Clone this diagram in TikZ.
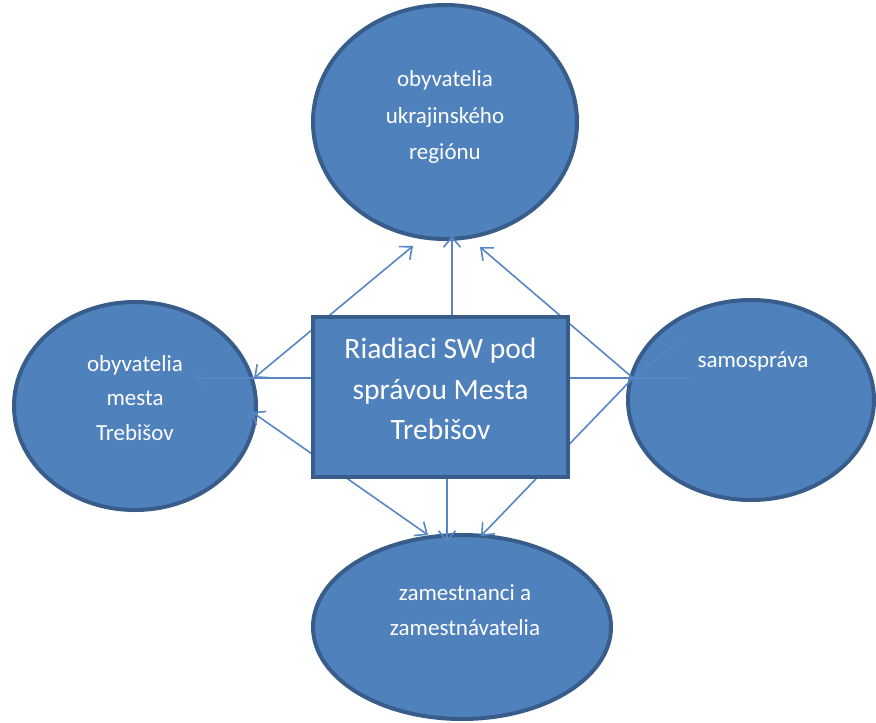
\documentclass[tikz,border=0pt]{standalone}
\usepackage{fontspec}
\setmainfont{Carlito}
\usetikzlibrary{arrows.meta,shapes.geometric}
\definecolor{fillblue}{HTML}{4F81BD}
\definecolor{edgeblue}{HTML}{385D8A}
\definecolor{linkblue}{HTML}{5686C4}
\tikzset{
  bubble/.style={ellipse, draw=edgeblue, line width=4pt, fill=fillblue, inner sep=0pt},
  mainbox/.style={rectangle, draw=edgeblue, line width=4.5pt, fill=fillblue, inner sep=0pt},
  link/.style={draw=linkblue, line width=1.6pt, -{Straight Barb[length=10pt,width=17pt]}},
  dlink/.style={draw=linkblue, line width=1.6pt, {Straight Barb[length=10pt,width=17pt]}-{Straight Barb[length=10pt,width=17pt]}},
  plink/.style={draw=linkblue, line width=1.6pt},
  txt/.style={text=white, align=center, font=\fontsize{23}{36.5}\selectfont},
  tighttxt/.style={text=white, align=center, font=\fontsize{23}{34.5}\selectfont},
  bigtxt/.style={text=white, align=center, font=\fontsize{29.5}{40.5}\selectfont},
}
\begin{document}
\begin{tikzpicture}[x=1pt,y=-1pt]
\useasboundingbox (0,0) rectangle (876,723);
% ellipses
\node[bubble, minimum width=264pt, minimum height=234pt] (top) at (445,122) {};
\node[bubble, minimum width=242pt, minimum height=208pt] (left) at (135,406) {};
\node[bubble, minimum width=246pt, minimum height=200pt] (right) at (751,400) {};
\node[bubble, minimum width=298pt, minimum height=184pt] (bottom) at (462,627) {};
% texts
\node[txt] (toptxt) at (445,117) {obyvatelia\\ukrajinského\\regiónu};
\node[tighttxt] (lefttxt) at (135,398) {obyvatelia\\mesta\\Trebišov};
\node[txt] (righttxt) at (753,361) {samospráva};
\node[tighttxt] (bottomtxt) at (465,610) {zamestnanci a\\zamestnávatelia};
% connector end points
\coordinate (l1) at (254,378);
\coordinate (t1) at (413,246);
\coordinate (bt) at (452,318);
\coordinate (t2) at (452,236);
\coordinate (r0) at (633,378);
\coordinate (t3) at (480,247);
\coordinate (bR) at (566,378);
\coordinate (r1) at (692,378);
\coordinate (r2) at (683,338);
\coordinate (b3) at (481,536);
\coordinate (bL) at (314,378);
\coordinate (l2) at (195,378);
\coordinate (l3) at (252,412);
\coordinate (b1) at (428,535);
\coordinate (bB) at (447,476);
\coordinate (b2) at (447,542);
% connectors
\draw[dlink] (l1) -- (t1);
\draw[link] (bt) -- (t2);
\draw[link] (r0) -- (t3);
\draw[plink] (bR) -- (r1);
\draw[plink] (r2) -- (r0);
\draw[link] (r0) -- (b3);
\draw[link] (bL) -- (l2);
\draw[dlink] (l3) -- (b1);
\draw[link] (bB) -- (b2);
% central box
\node[mainbox, minimum width=255pt, minimum height=160pt] (box) at (440.5,397) {};
\node[bigtxt] (boxtxt) at (440.5,389) {Riadiaci SW pod\\správou Mesta\\Trebišov};
\end{tikzpicture}
\end{document}
